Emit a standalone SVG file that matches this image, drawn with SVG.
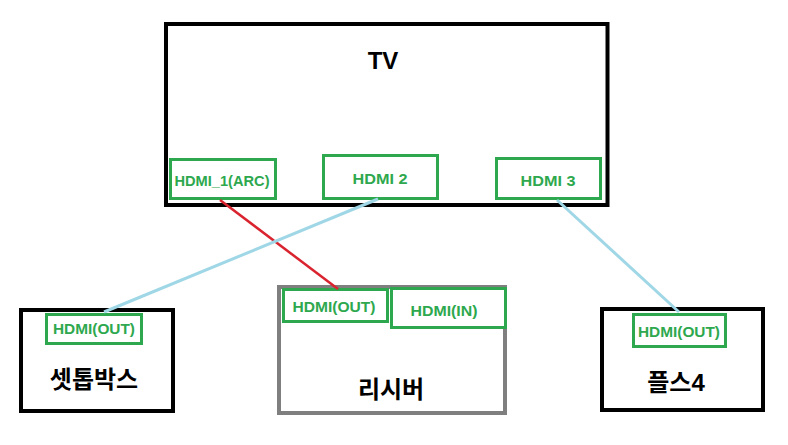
<svg xmlns="http://www.w3.org/2000/svg" width="788" height="445" viewBox="0 0 788 445">
<style>
.dev{fill:#fff;stroke:#000;stroke-width:4}
.gray{fill:#fff;stroke:#7f7f7f;stroke-width:4}
.port{fill:#fff;stroke:#2ea84e;stroke-width:3}
.pt{font-family:"Liberation Sans",Arial,sans-serif;font-weight:bold;font-size:14.5px;fill:#2ea84e;text-anchor:middle}
.lbl{font-family:"Liberation Sans","Noto Sans CJK KR",sans-serif;font-weight:bold;font-size:24px;fill:#000;text-anchor:middle}
.red{stroke:#d9232e;stroke-width:2.5;fill:none}
.blue{stroke:#9fd7e6;stroke-width:3;fill:none}
</style>
<rect width="788" height="445" fill="#fff"/>
<g id="tv">
<rect class="dev" x="166" y="24" width="441.5" height="181"/>
<text class="lbl" x="383" y="69">TV</text>
</g>
<g id="tv-hdmi1">
<rect class="port" x="170.5" y="159.5" width="105" height="39"/>
<text class="pt" x="222" y="186" textLength="95" lengthAdjust="spacingAndGlyphs">HDMI_1(ARC)</text>
</g>
<g id="tv-hdmi2">
<rect class="port" x="323.5" y="155.5" width="114" height="43"/>
<text class="pt" x="380" y="184" textLength="55" lengthAdjust="spacingAndGlyphs">HDMI 2</text>
</g>
<g id="tv-hdmi3">
<rect class="port" x="496.5" y="158.5" width="104" height="40"/>
<text class="pt" x="548" y="186" textLength="55" lengthAdjust="spacingAndGlyphs">HDMI 3</text>
</g>
<g id="settop">
<rect class="dev" x="21" y="310" width="152" height="101"/>
<rect class="port" x="46.5" y="314.5" width="95" height="29"/>
<text class="pt" x="94" y="334" textLength="82" lengthAdjust="spacingAndGlyphs">HDMI(OUT)</text>
<text class="lbl" x="94" y="388">셋톱박스</text>
</g>
<g id="receiver">
<rect class="gray" x="279" y="287" width="226" height="126"/>
<rect class="port" x="283.5" y="289.5" width="104" height="32"/>
<text class="pt" x="334" y="312" textLength="83" lengthAdjust="spacingAndGlyphs">HDMI(OUT)</text>
<rect class="port" x="391.5" y="288.5" width="114" height="39"/>
<text class="pt" x="444" y="316" textLength="67" lengthAdjust="spacingAndGlyphs">HDMI(IN)</text>
<text class="lbl" x="391" y="398">리시버</text>
</g>
<g id="ps4">
<rect class="dev" x="602" y="309" width="161" height="101"/>
<rect class="port" x="633.5" y="314.5" width="92" height="32"/>
<text class="pt" x="679" y="337" textLength="82" lengthAdjust="spacingAndGlyphs">HDMI(OUT)</text>
<text class="lbl" x="676" y="391">플스4</text>
</g>
<g id="connectors">
<line class="red" x1="220" y1="200" x2="338" y2="289"/>
<line class="blue" x1="378" y1="199" x2="104" y2="312"/>
<line class="blue" x1="557" y1="200" x2="679" y2="312"/>
</g>
</svg>
